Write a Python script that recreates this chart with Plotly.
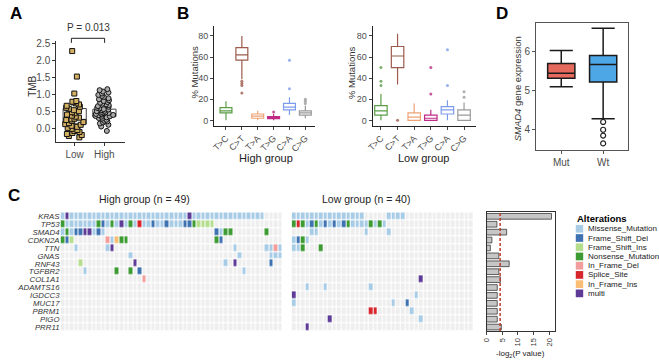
import math
import plotly.graph_objects as go

W, H = 659, 362
FONT = "Liberation Sans, Arial, sans-serif"


def fx(p):
    return p / W


def fy(p):
    return 1 - p / H


# ---------------- Panel A data ----------------
tmb_groups = ["Low", "High"]
tmb_low = [2.27, 1.52, 1.02, 0.80, 0.78, 0.76, 0.73, 0.70, 0.66, 0.63, 0.60, 0.57, 0.53,
           0.50, 0.47, 0.44, 0.40, 0.37, 0.34, 0.31, 0.28, 0.26, 0.24, 0.21, 0.18, 0.15,
           0.12, 0.10, 0.07, 0.04, 0.01, -0.02, -0.05, -0.08, -0.11, -0.14, -0.17, -0.20,
           -0.23, -0.27]
tmb_high = [1.15, 1.12, 1.08, 1.05, 1.02, 0.98, 0.95, 0.92, 0.88, 0.85, 0.82, 0.80, 0.77,
            0.75, 0.72, 0.70, 0.68, 0.65, 0.63, 0.60, 0.58, 0.56, 0.55, 0.53, 0.51, 0.50,
            0.48, 0.47, 0.45, 0.44, 0.43, 0.42, 0.40, 0.39, 0.38, 0.36, 0.35, 0.34, 0.32,
            0.30, 0.28, 0.25, 0.22, 0.20, 0.17, 0.14, 0.10, 0.05, -0.08]
tmb_q1 = [0.13, 0.34]
tmb_median = [0.26, 0.43]
tmb_q3 = [0.58, 0.56]
tmb_p_text = "P = 0.013"

# ---------------- Panel B data ----------------
sub_types = ["T>C", "C>T", "T>A", "T>G", "C>A", "C>G"]
sub_colors = ["#5B9E47", "#9C5B4C", "#EFA276", "#C02A86", "#7C9BEB", "#9A9A9A"]
hi_q1 = [7, 57, 2, 1.5, 10, 5]
hi_med = [9, 62, 4, 2.5, 12.5, 7]
hi_q3 = [12, 69, 6, 3.5, 16, 9]
hi_lo = [0, 39, 0, 0, 5, 2]
hi_hi = [18, 80, 9, 6, 22, 14]
hi_out = [[], [37, 35, 33, 26], [], [8], [30, 57], [16, 18, 20]]
lo_q1 = [5, 50, 0, 0, 6, 0]
lo_med = [9, 61, 3, 2, 10, 5]
lo_q3 = [14, 70, 7, 5, 13, 10]
lo_lo = [0, 34, 0, 0, 0, 0]
lo_hi = [25, 82, 16, 10, 19, 17]
lo_out = [[33, 37, 50], [0], [], [25, 50], [33, 67], [22, 27]]

# ---------------- Panel D data ----------------
smad_groups = ["Mut", "Wt"]
smad_q1 = [5.32, 5.22]
smad_med = [5.45, 5.67]
smad_q3 = [5.70, 5.90]
smad_lo = [5.10, 4.28]
smad_hi = [6.03, 6.60]
smad_out = [[], [4.20, 4.00, 3.85, 3.65]]
smad_colors = ["#E5695D", "#4DA6E5"]

# ---------------- Panel C data ----------------
genes = ["KRAS", "TP53", "SMAD4", "CDKN2A", "TTN", "GNAS", "RNF43", "TGFBR2", "COL1A1",
         "ADAMTS16", "IGDCC3", "MUC17", "PBRM1", "PIGO", "PRR11"]
alterations = ["Missense_Mutation", "Frame_Shift_Del", "Frame_Shift_Ins", "Nonsense_Mutation",
               "In_Frame_Del", "Splice_Site", "In_Frame_Ins", "multi"]
alt_codes = ["M", "D", "I", "N", "d", "S", "i", "X"]
alt_colors = ["#A9CCE6", "#3F72B0", "#B5DD8E", "#3E9A32", "#F29C9B", "#D7262B", "#F9BE74", "#5D3B96"]
empty_color = "#EEEEEE"
n_high, n_low = 49, 40
high_rows = [
    "M" + "X" + "M" * 26 + "X" + "M" * 16,
    "NMMMMMMMNDMNMXMNMSMMDMMDMMMDDNIIII",
    "MNMDDXXMDM" + "." * 24 + "DMNN" + "." * 7 + "N",
    "NDI" + "." * 7 + "dMiNN" + "." * 19 + "ND",
    "...M" + "." * 6 + "MX" + "." * 26 + "M" + "." * 6 + "MMdM",
    "." * 15 + "M" + "." * 23 + "M" + "." * 6 + "MMM",
    "." * 4 + "I" + "." * 11 + "X" + "." * 19 + "M.X" + "." * 7 + "D",
    "." * 5 + "M" + "." * 6 + "N..N.D" + "." * 22 + "M",
    "." * 18 + "d",
    "", "", "", "", "", "",
]
low_rows = [
    "M" * 16 + "." * 5 + "M" * 4,
    "NSNMDNMDMDMDN" + "MMMM" + "NMNM",
    "...." + "MM" + "." * 10 + "M...." + "M",
    "MDNM",
    "MMN...N",
    "", "", "",
    "." * 28 + "X",
    "...M...M" + "." * 9 + "M",
    "X" + "." * 26 + "M",
    "M" + "." * 21 + "M..D",
    "." * 17 + "SS" + "." * 7 + "M",
    "." * 8 + "X" + "." * 19 + "M",
    "...X",
]
neglog2_p = [20.7, 3.3, 6.4, 1.7, 1.2, 3.9, 7.2, 3.9, 4.4, 3.4, 3.4, 3.4, 3.4, 3.4, 4.7]
p_threshold = 0.05

code_index = {c: i + 1 for i, c in enumerate(alt_codes)}
code_index["."] = 0


def to_matrix(rows, n):
    return [[code_index[ch] for ch in r.ljust(n, ".")[:n]] for r in rows]


colorscale = []
all_cols = [empty_color] + alt_colors
for k, c in enumerate(all_cols):
    colorscale += [[k / len(all_cols), c], [(k + 1) / len(all_cols), c]]

fig = go.Figure()

# ---- A ----
for i, (pts, sym, fill) in enumerate([(tmb_low, "square", "#D4B062"), (tmb_high, "circle", "#ABABAB")]):
    fig.add_trace(go.Box(
        x=[i + 1], y=[pts], q1=[tmb_q1[i]], median=[tmb_median[i]], q3=[tmb_q3[i]],
        lowerfence=[tmb_q1[i]], upperfence=[tmb_q3[i]], width=0.78,
        boxpoints="all", jitter=0.85, pointpos=0, whiskerwidth=0,
        line=dict(color="#444444", width=1), fillcolor="rgba(0,0,0,0)",
        marker=dict(symbol=sym, size=5, color=fill, line=dict(color="#111111", width=1)),
        xaxis="x", yaxis="y", hoverinfo="skip"))

# ---- B ----
for ax, q1, med, q3, lo, hi, out in [("2", hi_q1, hi_med, hi_q3, hi_lo, hi_hi, hi_out),
                                      ("3", lo_q1, lo_med, lo_q3, lo_lo, lo_hi, lo_out)]:
    for i, t in enumerate(sub_types):
        if out[i]:
            kw = dict(y=[out[i]], boxpoints="outliers")
        else:
            kw = dict(boxpoints=False)
        fig.add_trace(go.Box(
            x=[i], q1=[q1[i]], median=[med[i]], q3=[q3[i]], lowerfence=[lo[i]], upperfence=[hi[i]],
            width=0.75, whiskerwidth=0, line=dict(color=sub_colors[i], width=1.2),
            fillcolor="white", marker=dict(color=sub_colors[i], size=3, opacity=0.8),
            xaxis="x" + ax, yaxis="y" + ax, hoverinfo="skip", **kw))

# ---- D ----
for i in range(2):
    kw = dict(y=[smad_out[i]], boxpoints="outliers") if smad_out[i] else dict(boxpoints=False)
    fig.add_trace(go.Box(
        x=[i + 1], q1=[smad_q1[i]], median=[smad_med[i]], q3=[smad_q3[i]],
        lowerfence=[smad_lo[i]], upperfence=[smad_hi[i]], width=0.65, whiskerwidth=0.85,
        line=dict(color="#1A1A1A", width=1.5), fillcolor=smad_colors[i],
        marker=dict(symbol="circle-open", color="#222222", size=5, line=dict(width=1.2)),
        xaxis="x4", yaxis="y4", hoverinfo="skip", **kw))

# ---- C heatmaps ----
for ax, rows, n in [("5", high_rows, n_high), ("6", low_rows, n_low)]:
    fig.add_trace(go.Heatmap(
        z=to_matrix(rows, n), x=list(range(n)), y=genes, colorscale=colorscale,
        zmin=-0.5, zmax=len(all_cols) - 0.5, showscale=False, xgap=1, ygap=1.2,
        xaxis="x" + ax, yaxis="y" + ax, hoverinfo="skip"))

fig.add_trace(go.Bar(
    x=neglog2_p, y=genes, orientation="h", width=0.72,
    marker=dict(color="#C6C6C6", line=dict(color="#3A3A3A", width=0.8)),
    xaxis="x7", yaxis="y7", hoverinfo="skip"))

tickfont = dict(family=FONT, size=10, color="#4D4D4D")
tickfont_s = dict(family=FONT, size=9, color="#4D4D4D")

layout = dict(
    width=W, height=H, autosize=False, margin=dict(l=0, r=0, t=0, b=0),
    paper_bgcolor="white", plot_bgcolor="white", showlegend=False,
    font=dict(family=FONT, color="#222222"),
    # A
    xaxis=dict(domain=[fx(50.7), fx(120)], range=[0.38, 2.69], tickvals=[1, 2], ticktext=tmb_groups,
               showline=True, linecolor="#333333", linewidth=1, ticks="outside", ticklen=3,
               tickcolor="#333333", tickfont=tickfont, showgrid=False, zeroline=False),
    yaxis=dict(domain=[fy(140.7), fy(38.3)], range=[-0.41, 2.57], tickvals=[0, 0.5, 1, 1.5, 2, 2.5],
               ticktext=["0.0", "0.5", "1.0", "1.5", "2.0", "2.5"], showline=True, linecolor="#333333",
               linewidth=1, ticks="outside", ticklen=3, tickcolor="#333333", tickfont=tickfont,
               showgrid=False, zeroline=False, anchor="x"),
    # B high
    xaxis2=dict(domain=[fx(210), fx(311.7)], range=[-0.75, 5.6], tickvals=list(range(6)), ticktext=sub_types,
                tickangle=-45, showline=True, linecolor="#222222", linewidth=1, ticks="outside", ticklen=3,
                tickfont=tickfont_s, showgrid=False, zeroline=False, anchor="y2"),
    yaxis2=dict(domain=[fy(124), fy(23.3)], range=[-5, 89.4], tickvals=[0, 20, 40, 60, 80],
                showline=True, linecolor="#222222", linewidth=1, ticks="outside", ticklen=3,
                tickfont=tickfont_s, showgrid=False, zeroline=False, anchor="x2"),
    # B low
    xaxis3=dict(domain=[fx(370), fx(474)], range=[-0.5, 5.7], tickvals=list(range(6)), ticktext=sub_types,
                tickangle=-45, showline=True, linecolor="#222222", linewidth=1, ticks="outside", ticklen=3,
                tickfont=tickfont_s, showgrid=False, zeroline=False, anchor="y3"),
    yaxis3=dict(domain=[fy(124), fy(23.3)], range=[-5, 89.4], tickvals=[0, 20, 40, 60, 80],
                showline=True, linecolor="#222222", linewidth=1, ticks="outside", ticklen=3,
                tickfont=tickfont_s, showgrid=False, zeroline=False, anchor="x3"),
    # D
    xaxis4=dict(domain=[fx(535), fx(628)], range=[0.4, 2.6], tickvals=[1, 2], ticktext=smad_groups,
                showline=True, mirror=True, linecolor="#555555", linewidth=1, ticks="outside", ticklen=3,
                tickcolor="#555555", tickfont=tickfont, showgrid=False, zeroline=False, anchor="y4"),
    yaxis4=dict(domain=[fy(148.3), fy(20)], range=[3.49, 6.74], tickvals=[4, 5, 6],
                showline=True, mirror=True, linecolor="#555555", linewidth=1, ticks="outside", ticklen=3,
                tickcolor="#555555", tickfont=tickfont, showgrid=False, zeroline=False, anchor="x4"),
    # C high heatmap
    xaxis5=dict(domain=[fx(55), fx(279.5)], range=[-0.5, n_high - 0.5], visible=False, anchor="y5"),
    yaxis5=dict(domain=[fy(331.7), fy(211.7)], range=[14.5, -0.5], type="category",
                tickvals=genes, ticktext=["<i>%s</i>" % g for g in genes], ticks="",
                tickfont=dict(family=FONT, size=7.8, color="#333333"), showgrid=False,
                zeroline=False, showline=False, anchor="x5"),
    xaxis6=dict(domain=[fx(288.3), fx(471.7)], range=[-0.5, n_low - 0.5], visible=False, anchor="y6"),
    yaxis6=dict(domain=[fy(331.7), fy(211.7)], range=[14.5, -0.5], type="category",
                showticklabels=False, ticks="", showgrid=False, zeroline=False, anchor="x6"),
    # C bars
    xaxis7=dict(domain=[fx(485), fx(554)], range=[0, 21.8], tickvals=[0, 5, 10, 15, 20], tickangle=-90,
                showline=True, mirror=True, linecolor="#333333", linewidth=1, ticks="outside", ticklen=3,
                tickfont=dict(family=FONT, size=7.5, color="#333333"), showgrid=False, zeroline=False,
                anchor="y7"),
    yaxis7=dict(domain=[fy(331.7), fy(211.7)], range=[14.5, -0.5], type="category",
                showticklabels=False, ticks="", showline=True, mirror=True, linecolor="#333333",
                linewidth=1, showgrid=False, zeroline=False, anchor="x7"),
)
fig.update_layout(**layout)

annotations = []


def ann(x, y, text, size=10, bold=False, xanchor="center", yanchor="middle", angle=0, color="#222222"):
    t = "<b>%s</b>" % text if bold else text
    annotations.append(dict(x=fx(x), y=fy(y), xref="paper", yref="paper", text=t, showarrow=False,
                            xanchor=xanchor, yanchor=yanchor, textangle=angle,
                            font=dict(family=FONT, size=size, color=color)))


ann(10, 11, "A", 17, bold=True, color="#000000")
ann(179, 11, "B", 17, bold=True, color="#000000")
ann(501, 11, "D", 17, bold=True, color="#000000")
ann(8, 195, "C", 17, bold=True, color="#000000")
ann(26, 84, "TMB", 10, angle=-90, color="#333333")
ann(83, 25, tmb_p_text, 10, color="#333333")
ann(190, 70, "% Mutations", 9.5, angle=-90, color="#333333")
ann(348, 70, "% Mutations", 9.5, angle=-90, color="#333333")
ann(262, 157, "High group", 11)
ann(421, 157, "Low group", 11)
ann(516, 87, "<i>SMAD4</i> gene expression", 9.5, angle=-90, color="#333333")
ann(140, 198, "High group (n = 49)", 10.5)
ann(363, 198, "Low group (n = 40)", 10.5)
ann(519, 355, "-log<sub>2</sub>(P value)", 8)
ann(574, 218, "Alterations", 9.5, bold=True, xanchor="left", color="#000000")
for i, name in enumerate(alterations):
    yc = 228.3 + 9.33 * i
    ann(585, yc, name, 8, xanchor="left", color="#222222")

shapes = []
# significance bracket in panel A
for x0, y0, x1, y1 in [(66, 35.7, 99.5, 35.7), (66, 35.7, 66, 40.3), (99.5, 35.7, 99.5, 40.3)]:
    shapes.append(dict(type="line", xref="paper", yref="paper", x0=fx(x0), y0=fy(y0), x1=fx(x1), y1=fy(y1),
                       line=dict(color="#222222", width=1)))
# legend swatches
for i, c in enumerate(alt_colors):
    yc = 228.3 + 9.33 * i
    shapes.append(dict(type="rect", xref="paper", yref="paper", x0=fx(575), x1=fx(582.5),
                       y0=fy(yc + 3.9), y1=fy(yc - 3.9), fillcolor=c, line=dict(width=0)))
# significance threshold line in bar panel
thr = -math.log2(p_threshold)
shapes.append(dict(type="line", xref="x7", yref="y7 domain", x0=thr, x1=thr, y0=0, y1=1,
                   line=dict(color="#C0392B", width=1.5, dash="3px,2px")))

fig.update_layout(annotations=annotations, shapes=shapes)
fig.write_html("out.html", config={"displayModeBar": False},
               post_script="document.body.style.margin='0px';document.body.style.overflow='hidden';")
